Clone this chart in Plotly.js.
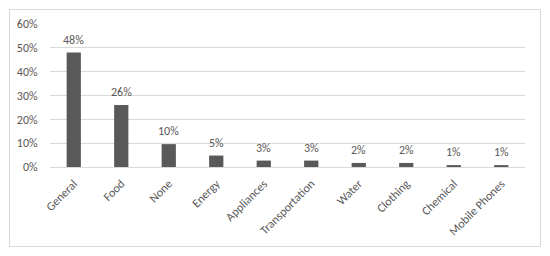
<!DOCTYPE html>
<html><head><meta charset="utf-8">
<script src="https://cdn.plot.ly/plotly-3.0.1.min.js"></script>
<style>
html,body{margin:0;padding:0;background:#fff;}
#wrap{position:relative;width:550px;height:256px;}
#frame{position:absolute;left:9px;top:9px;width:530px;height:236px;border:1px solid #d9d9d9;pointer-events:none;}
#chart{position:absolute;left:0;top:0;width:550px;height:256px;}
</style></head>
<body>
<div id="wrap"><div id="chart"></div><div id="frame"></div></div>
<script>
const categories = ["General","Food","None","Energy","Appliances","Transportation","Water","Clothing","Chemical","Mobile Phones"];
const shares = [0.48,0.26,0.096,0.048,0.027,0.027,0.017,0.017,0.008,0.008];
const labels = ["48%","26%","10%","5%","3%","3%","2%","2%","1%","1%"];
const yTicks = [0,0.1,0.2,0.3,0.4,0.5,0.6];
const yTickText = ["0%","10%","20%","30%","40%","50%","60%"];

const fontFam = "Carlito, Calibri, 'Open Sans', 'Liberation Sans', sans-serif";
const annotations = categories.map((c,i)=>({
  x:c, y:shares[i], xref:'x', yref:'y', text:labels[i], showarrow:false,
  yanchor:'bottom', yshift:4, font:{family:fontFam,size:12,color:'#595959'}
}));
Plotly.newPlot('chart',[{
  type:'bar', x:categories, y:shares,
  marker:{color:'#595959'}, hoverinfo:'none'
}],{
  width:550,height:256,
  margin:{l:50,r:25,t:24,b:89},
  paper_bgcolor:'#fff',plot_bgcolor:'#fff',
  bargap:0.7, showlegend:false,
  annotations:annotations,
  font:{family:fontFam,size:12,color:'#595959'},
  xaxis:{type:'category',tickangle:-45,showgrid:false,showline:true,linecolor:'#d9d9d9',linewidth:1,
    ticks:'outside',ticklen:4,tickcolor:'rgba(0,0,0,0)',tickfont:{family:fontFam,size:12,color:'#595959'},zeroline:false},
  yaxis:{range:[0,0.6],tickvals:yTicks,ticktext:yTickText,showgrid:true,gridcolor:'#d9d9d9',gridwidth:1,
    zeroline:false,showline:false,ticks:'outside',ticklen:9,tickcolor:'rgba(0,0,0,0)',
    tickfont:{family:fontFam,size:12,color:'#595959'}}
},{staticPlot:true,displayModeBar:false});
</script>
</body></html>
